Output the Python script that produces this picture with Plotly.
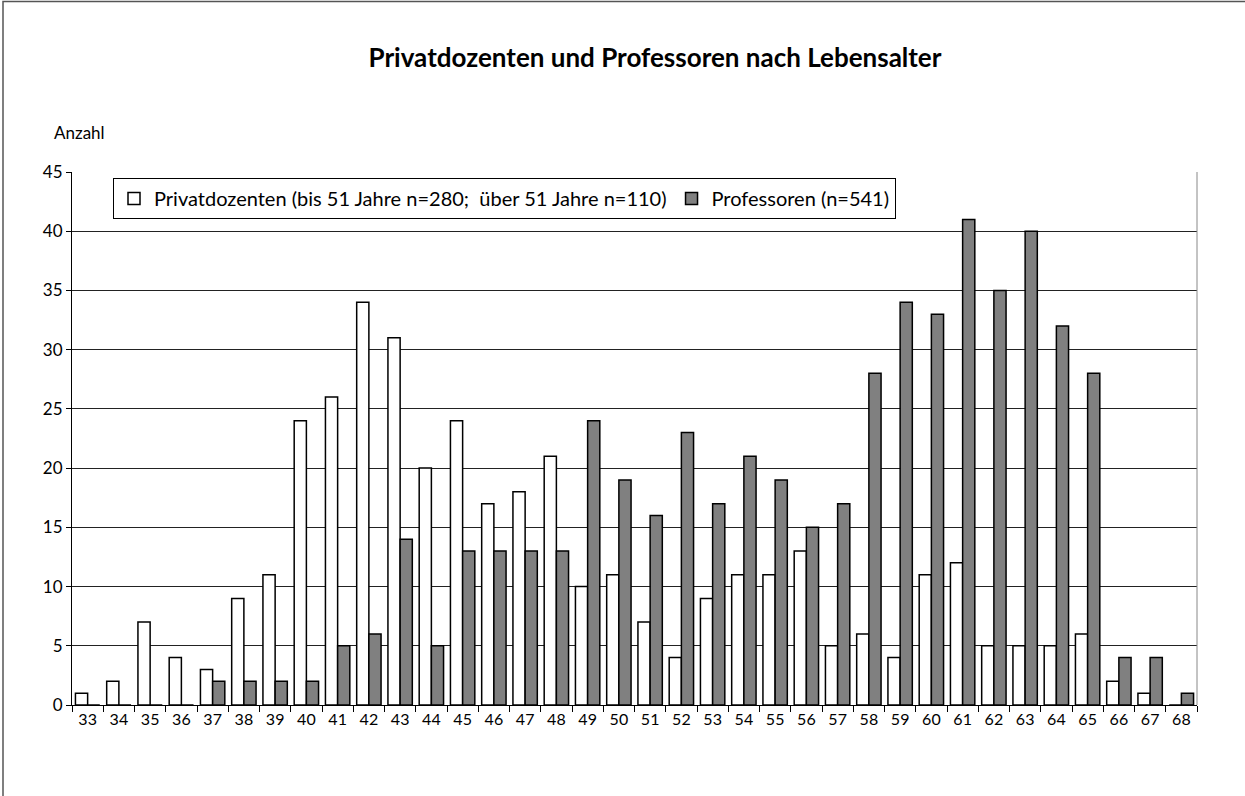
import plotly.graph_objects as go

# Lebensalter (x categories)
ages = [str(a) for a in range(33, 69)]

# Anzahl je Alter
privatdozenten = [1, 2, 7, 4, 3, 9, 11, 24, 26, 34, 31, 20, 24, 17, 18, 21, 10, 11,
                  7, 4, 9, 11, 11, 13, 5, 6, 4, 11, 12, 5, 5, 5, 6, 2, 1, 0]
professoren = [0, 0, 0, 0, 2, 2, 2, 2, 5, 6, 14, 5, 13, 13, 13, 13, 24, 19,
               16, 23, 17, 21, 19, 15, 17, 28, 34, 33, 41, 35, 40, 32, 28, 4, 4, 1]

y_ticks = [0, 5, 10, 15, 20, 25, 30, 35, 40, 45]

W, H = 1245, 796
L, R, T, B = 72, 48, 172, 91
pw, ph = W - L - R, H - T - B


def px(x):
    return (x - L) / pw


def py(y):
    return (H - B - y) / ph


font = "Lato, 'Open Sans', sans-serif"

fig = go.Figure()
fig.add_trace(go.Bar(x=ages, y=privatdozenten,
                     name="Privatdozenten (bis 51 Jahre n=280;  über 51 Jahre n=110)",
                     marker=dict(color="white", line=dict(color="black", width=1.5))))
fig.add_trace(go.Bar(x=ages, y=professoren, name="Professoren (n=541)",
                     marker=dict(color="#808080", line=dict(color="black", width=1.5))))

fig.update_layout(
    width=W, height=H,
    margin=dict(l=L, r=R, t=T, b=B),
    plot_bgcolor="white", paper_bgcolor="white",
    barmode="group", bargap=0.22, bargroupgap=0,
    font=dict(family=font, size=16, color="black"),
    title=dict(text="<b>Privatdozenten und Professoren nach Lebensalter</b>",
               x=655 / W, xanchor="center", y=1 - 58 / H, yanchor="middle",
               font=dict(size=26, family=font)),
    legend=dict(orientation="h", x=px(113), y=py(178), xanchor="left", yanchor="top",
                bordercolor="black", borderwidth=1, bgcolor="white", itemwidth=30,
                font=dict(size=20, family=font), traceorder="normal"),
    showlegend=True,
)

fig.update_xaxes(type="category", showgrid=False, showline=True, linecolor="black",
                 linewidth=1, ticks="outside", tickson="boundaries", ticklen=6,
                 tickcolor="black", tickfont=dict(size=16))
fig.update_yaxes(range=[0, 45], tickvals=y_ticks, showgrid=True, gridcolor="#222222",
                 gridwidth=1, showline=True, linecolor="black", linewidth=1,
                 ticks="outside", ticklen=5, tickcolor="black", tickfont=dict(size=17),
                 zeroline=False)

# right edge of the plot area
fig.add_shape(type="line", xref="paper", yref="paper", x0=1, x1=1, y0=0, y1=1,
              line=dict(color="#888888", width=1))
# outer frame of the chart
fig.add_shape(type="rect", xref="paper", yref="paper",
              x0=px(3), x1=px(1260), y0=py(820), y1=py(1.5),
              line=dict(color="#555555", width=1.5), layer="below")

fig.add_annotation(text="Anzahl", xref="paper", yref="paper", x=px(52), y=py(132),
                   xanchor="left", yanchor="middle", showarrow=False,
                   font=dict(size=17, family=font))

fig.write_html("out.html", config={"displayModeBar": False},
               post_script="document.body.style.margin='0';")
